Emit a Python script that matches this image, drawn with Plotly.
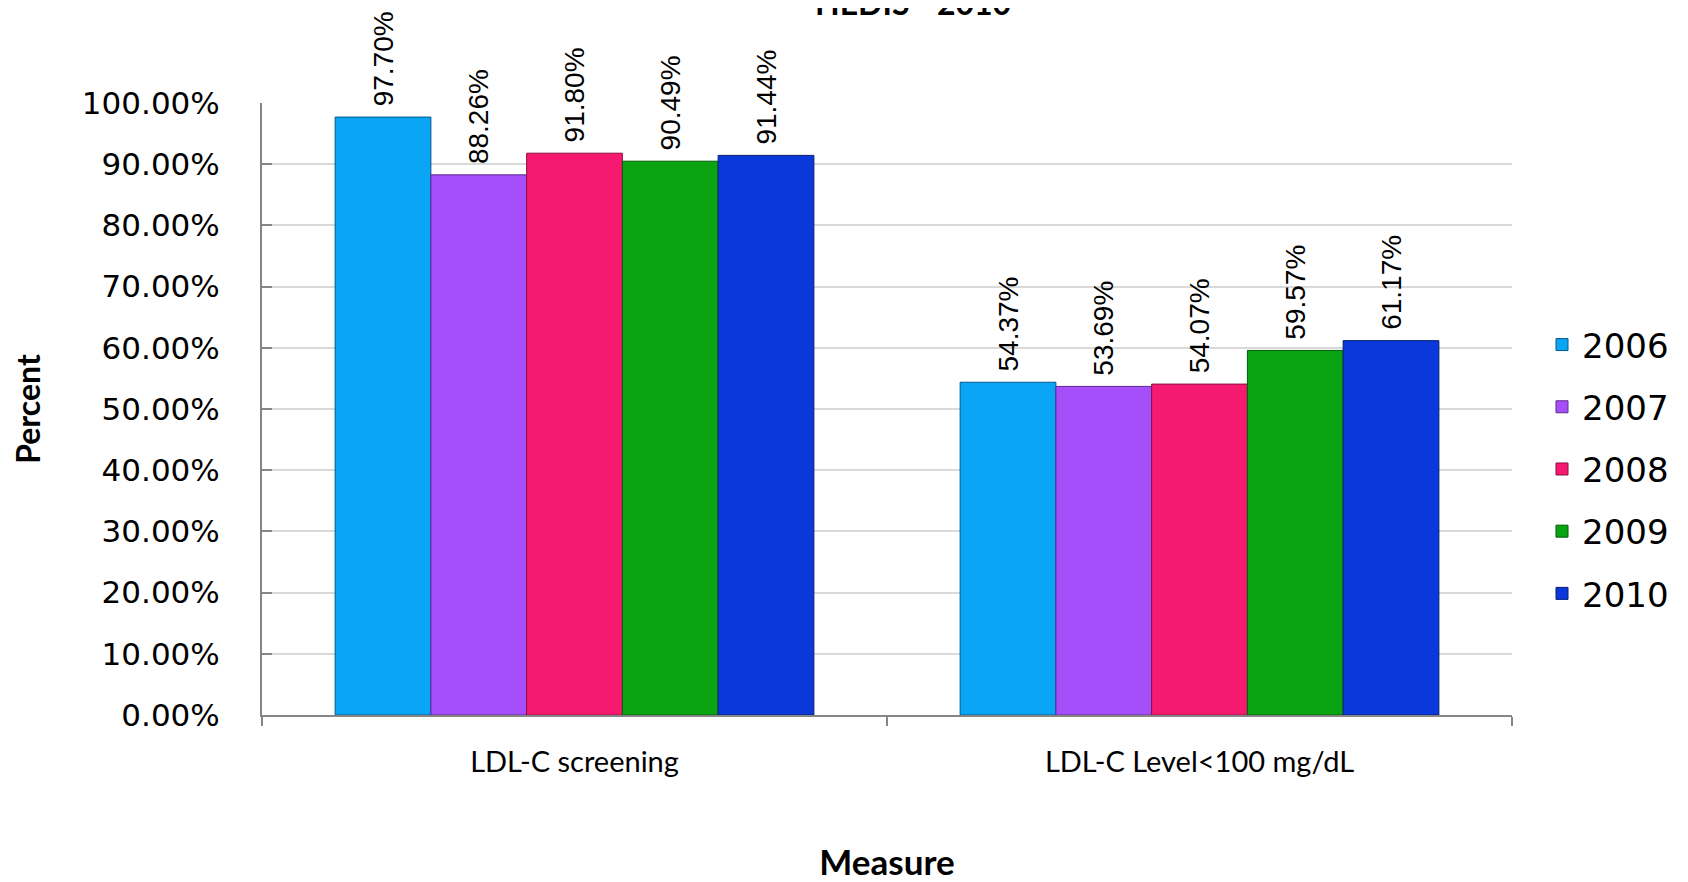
import plotly.graph_objects as go

categories = ["LDL-C screening", "LDL-C Level<100 mg/dL"]
years = ["2006", "2007", "2008", "2009", "2010"]
values = {
    "2006": [0.9770, 0.5437],
    "2007": [0.8826, 0.5369],
    "2008": [0.9180, 0.5407],
    "2009": [0.9049, 0.5957],
    "2010": [0.9144, 0.6117],
}
colors = ["#0AA6F5", "#A64EFA", "#F51A70", "#0AA312", "#0A38DA"]
edge_colors = ["#05578A", "#5A2A8A", "#8A1040", "#055A08", "#051E70"]

fig = go.Figure()
for i, yr in enumerate(years):
    fig.add_trace(go.Bar(
        name=yr,
        x=categories,
        y=values[yr],
        marker=dict(color=colors[i], line=dict(color=edge_colors[i], width=1)),
        texttemplate="\u00a0%{y:.2%}",
        textposition="outside",
        textangle=-90,
        constraintext="none",
        cliponaxis=False,
        textfont=dict(family="Liberation Sans, Arial, sans-serif", size=28, color="#000000"),
        legendgroup=yr,
    ))

# the page body has an 8px margin, so the figure is 8px smaller than the window
fig.update_layout(
    width=1680, height=874,
    barmode="group",
    bargap=0.234,
    bargroupgap=0,
    plot_bgcolor="#FFFFFF",
    paper_bgcolor="#FFFFFF",
    margin=dict(l=254, r=176, t=95, b=167),
    showlegend=True,
    legend=dict(
        x=1.024, xanchor="left", y=0.402, yanchor="middle",
        font=dict(family="DejaVu Sans, Verdana, sans-serif", size=34, color="#000000"),
        tracegroupgap=15,
        bgcolor="rgba(0,0,0,0)",
    ),
    xaxis=dict(
        showline=True, linecolor="#868686", linewidth=2,
        ticks="outside", ticklen=9, tickcolor="#868686", tickwidth=2,
        tickson="boundaries",
        tickfont=dict(family="Lato, sans-serif", size=29, color="#000000"),
        ticklabelstandoff=20,
        title=dict(text="<b>Measure</b>", font=dict(family="Lato, sans-serif", size=35, color="#000000"), standoff=82),
        automargin=False,
    ),
    yaxis=dict(
        range=[0, 1], dtick=0.1, tickformat=".2%",
        showgrid=True, gridcolor="#D9D9D9", gridwidth=2,
        showline=True, linecolor="#868686", linewidth=2,
        ticks="inside", ticklen=10, tickcolor="#868686", tickwidth=2,
        tickfont=dict(family="DejaVu Sans, Verdana, sans-serif", size=31, color="#000000"),
        ticklabelstandoff=34,
        zeroline=False,
        title=dict(text="<b>Percent</b>", font=dict(family="Lato, sans-serif", size=32, color="#000000"), standoff=50),
        automargin=False,
    ),
    annotations=[dict(
        text="<b>HEDIS - 2010</b>",
        xref="paper", yref="paper", x=0.5208, y=1.129,
        xanchor="center", yanchor="bottom", showarrow=False,
        font=dict(family="Lato, sans-serif", size=32, color="#000000"),
    )],
)

fig.write_html("out.html")
